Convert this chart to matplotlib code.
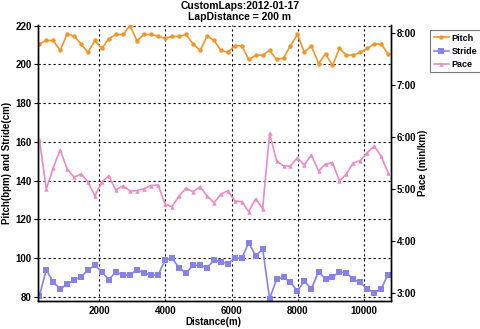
import matplotlib
matplotlib.use("Agg")
import matplotlib.pyplot as plt
from matplotlib.ticker import FuncFormatter, FixedLocator

plt.rcParams['font.family'] = ['Liberation Sans', 'DejaVu Sans']
plt.rcParams['font.weight'] = 'bold'

distance = [190, 400, 610, 820, 1030, 1240, 1450, 1660, 1870, 2080,
            2290, 2500, 2720, 2930, 3140, 3350, 3560, 3780, 3990, 4200,
            4410, 4620, 4840, 5050, 5260, 5470, 5680, 5890, 6100, 6310,
            6520, 6730, 6940, 7150, 7360, 7570, 7780, 7990, 8200, 8410,
            8630, 8840, 9050, 9260, 9470, 9680, 9890, 10100, 10310, 10520, 10730]

pitch = [210.5, 212.3, 212.3, 207.2, 215.6, 214.6, 210.5, 206.2, 212.3, 208.2,
         213.2, 215.4, 215.4, 220.0, 212.2, 215.4, 215.4, 214.6, 213.4, 214.4,
         214.4, 215.4, 210.5, 207.2, 214.6, 212.3, 207.2, 206.2, 209.6, 209.6,
         202.5, 204.7, 204.7, 207.2, 202.5, 203.3, 209.6, 215.4, 206.2, 209.6,
         200.4, 205.4, 199.4, 208.2, 204.7, 204.7, 206.2, 208.2, 210.5, 210.5, 205.4]

stride = [80.4, 94.0, 87.5, 84.1, 86.4, 88.9, 90.1, 94.0, 96.3, 92.8,
          88.9, 92.8, 91.3, 91.3, 94.0, 92.3, 91.3, 91.3, 98.8, 100.0,
          95.1, 92.3, 96.3, 96.3, 95.1, 98.8, 98.2, 97.1, 100.0, 100.0,
          108.0, 101.0, 104.8, 79.0, 89.1, 90.1, 87.4, 83.1, 88.1, 84.1,
          93.0, 89.1, 90.1, 93.0, 92.3, 89.1, 87.4, 84.1, 82.1, 84.1, 91.5]

# pace in minutes per km
pace = [5.965, 5.002, 5.412, 5.753, 5.393, 5.228, 5.291, 5.143, 4.868, 5.137,
        5.259, 4.983, 5.066, 4.964, 4.970, 5.008, 5.066, 5.079, 4.713, 4.662,
        4.868, 5.016, 4.950, 5.047, 4.868, 4.739, 4.906, 4.970, 4.770, 4.760,
        4.565, 4.816, 4.623, 6.075, 5.547, 5.445, 5.445, 5.605, 5.464, 5.663,
        5.349, 5.484, 5.509, 5.162, 5.291, 5.509, 5.547, 5.701, 5.830, 5.638, 5.316]

left_ticks = [80, 100, 120, 140, 160, 180, 200, 220]
x_ticks = [2000, 4000, 6000, 8000, 10000]
pace_ticks = [3, 4, 5, 6, 7, 8]

c_pitch = '#f0962a'
c_stride = '#8783e6'
c_pace = '#e98cc4'

W, H = 480, 329
fig = plt.figure(figsize=(W/100, H/100), dpi=100)
ax_l, ax_r, ax_t, ax_b = 38, 390.7, 25, 300.7
ax = fig.add_axes([ax_l/W, 1-ax_b/H, (ax_r-ax_l)/W, (ax_b-ax_t)/H])
ax2 = ax.twinx()

l1, = ax.plot(distance, pitch, color=c_pitch, marker='o', markersize=3.2, lw=1.2,
              markeredgewidth=0, label='Pitch')
l2, = ax.plot(distance, stride, color=c_stride, marker='s', markersize=4.2, lw=1.2,
              markeredgewidth=0, label='Stride')
l3, = ax2.plot(distance, pace, color=c_pace, marker='^', markersize=3.2, lw=1.2,
               markeredgewidth=0, label='Pace')

ax.set_xlim(150, 10810)
ax.set_ylim(78.0, 220.3)
ax2.set_ylim(2.852, 8.160)

ax.xaxis.set_major_locator(FixedLocator(x_ticks))
ax.yaxis.set_major_locator(FixedLocator(left_ticks))
ax2.yaxis.set_major_locator(FixedLocator(pace_ticks))
ax2.yaxis.set_major_formatter(FuncFormatter(lambda v, p: f"{int(v)}:{int(round((v-int(v))*60)):02d}"))

ax.grid(True, color='black', linestyle=(0, (2, 2.5)), linewidth=0.8)
ax.set_axisbelow(True)
for a in (ax, ax2):
    a.spines['top'].set_visible(False)
    for s in ('left', 'right', 'bottom'):
        a.spines[s].set_linewidth(1.0)
ax.tick_params(axis='both', labelsize=7, length=3, width=0.8, pad=1.5)
ax2.tick_params(axis='y', labelsize=7, length=3, width=0.8, pad=1.5)
ax.tick_params(axis='x', length=0, pad=4)

ax.set_xlabel('Distance(m)', fontsize=7, fontweight='bold')
ax.xaxis.set_label_coords(213/W, 1-317/H, transform=fig.transFigure)
ax.set_ylabel('Pitch(bpm) and Stride(cm)', fontsize=7, fontweight='bold')
ax.yaxis.set_label_coords(12/W, 1-163/H, transform=fig.transFigure)
ax2.set_ylabel('Pace (min/km)', fontsize=7, fontweight='bold')
ax2.yaxis.set_label_coords(418/W, 1-163/H, transform=fig.transFigure)

fig.text(0.5, 1-6/H, 'CustomLaps:2012-01-17', ha='center', va='center', fontsize=7.5, fontweight='bold')
fig.text(0.5, 1-16.5/H, 'LapDistance = 200 m', ha='center', va='center', fontsize=7.5, fontweight='bold')

leg = fig.legend([l1, l2, l3], ['Pitch', 'Stride', 'Pace'], loc='upper left',
                 bbox_to_anchor=(430/W, 1-30/H), fontsize=6.5, frameon=True,
                 fancybox=False, edgecolor='#555555', handlelength=1.7,
                 handletextpad=0.3, borderpad=0.4, labelspacing=0.45, borderaxespad=0)
leg.get_frame().set_linewidth(0.8)

fig.savefig('out.png', dpi=100)
